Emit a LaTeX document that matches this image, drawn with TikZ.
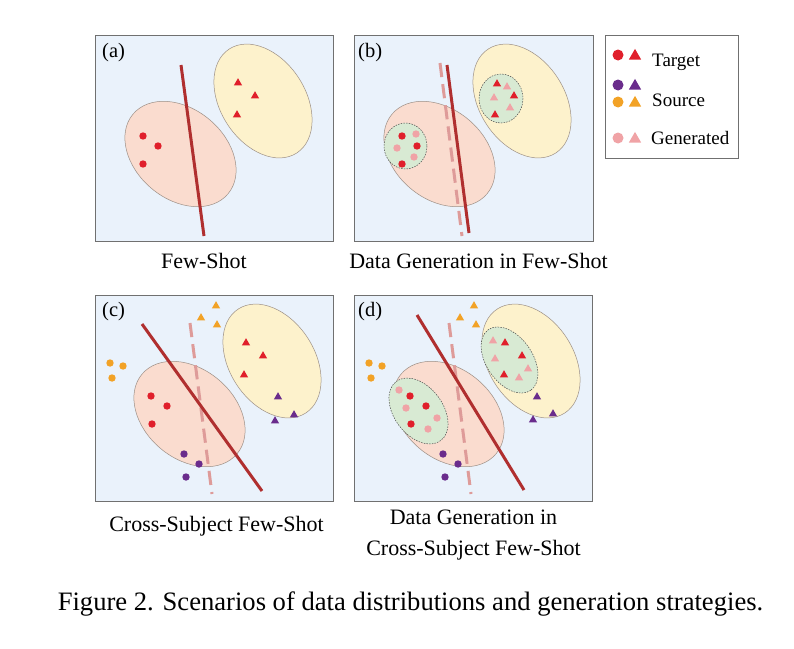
\documentclass[tikz,border=0pt]{standalone}
\usepackage{fontspec}
\setmainfont{Liberation Serif}
\usetikzlibrary{shapes.geometric}

\definecolor{panelbg}{HTML}{EAF2FB}
\definecolor{panelgray}{HTML}{707070}
\definecolor{regiongray}{HTML}{9C8F86}
\definecolor{pinkfill}{HTML}{FADCCF}
\definecolor{yellowfill}{HTML}{FDF2CC}
\definecolor{greenfill}{HTML}{D8EAD3}
\definecolor{boundred}{HTML}{B02F2F}
\definecolor{boundpink}{HTML}{DE9B99}
\definecolor{tgtred}{HTML}{E01F2B}
\definecolor{genpink}{HTML}{F0A3A6}
\definecolor{srcpurple}{HTML}{6A2C8C}
\definecolor{srcorange}{HTML}{F2A226}

\begin{document}
\begin{tikzpicture}[x=1pt, y=-1pt,
  panel/.style={draw=panelgray, fill=panelbg, line width=0.9pt},
  pinkreg/.style={draw=regiongray, fill=pinkfill, line width=0.5pt},
  yellowreg/.style={draw=regiongray, fill=yellowfill, line width=0.5pt},
  genreg/.style={draw=black!70, fill=greenfill, dash pattern=on 1.5pt off 1.2pt, line width=0.5pt},
  bound/.style={draw=boundred, line width=3pt},
  oldbound/.style={draw=boundpink, line width=3pt, dash pattern=on 14.2pt off 7.1pt},
  dotpt/.style={circle, inner sep=0pt, minimum size=7.4pt},
  tript/.style={regular polygon, regular polygon sides=3, inner sep=0pt, minimum size=9.6pt},
  legdot/.style={circle, inner sep=0pt, minimum size=11pt},
  legtri/.style={regular polygon, regular polygon sides=3, inner sep=0pt, minimum size=14.2pt},
  paneltag/.style={anchor=base west, inner sep=0pt, font=\fontsize{20.5}{24}\selectfont},
  legtext/.style={anchor=base west, inner sep=0pt, font=\fontsize{19}{22}\selectfont},
  captext/.style={anchor=base, inner sep=0pt, align=center, font=\fontsize{22}{31}\selectfont}
]

%% page and margins
\fill[white] (0,0) rectangle (794,648);
\useasboundingbox (0,0) rectangle (794,648);

%% ---------------- (a) ----------------
\draw[panel] (95,35) rectangle (333,241);
\draw[pinkreg, rotate around={-40:(180.5,154)}] (180.5,154) ellipse [x radius=62, y radius=45];
\draw[yellowreg, rotate around={-57:(263,101)}] (263,101) ellipse [x radius=62, y radius=42.5];
\draw[bound] (181,65) -- (204,236);
\foreach \px/\py [count=\i] in {143/136, 158/146, 143/164}
  \node[dotpt, fill=tgtred] (a-c\i) at (\px,\py) {};
\foreach \px/\py [count=\i] in {238/83, 255/96, 237/115}
  \node[tript, fill=tgtred] (a-t\i) at (\px,\py) {};
\node[paneltag] (a-tag) at (102,57.5) {(a)};

%% ---------------- (b) ----------------
\draw[panel] (354,35) rectangle (593,241);
\draw[pinkreg, rotate around={-40:(439.5,154)}] (439.5,154) ellipse [x radius=62, y radius=45];
\draw[yellowreg, rotate around={-57:(522,101)}] (522,101) ellipse [x radius=62, y radius=42.5];
\draw[genreg] (405.5,146) ellipse [x radius=21.5, y radius=23];
\draw[genreg] (501,98.5) ellipse [x radius=22, y radius=24.5];
\draw[oldbound] (440,63) -- (462,236);
\draw[bound] (447,65) -- (469,233);
\foreach \px/\py [count=\i] in {402/136, 417/146, 402/164}
  \node[dotpt, fill=tgtred] (b-c\i) at (\px,\py) {};
\foreach \px/\py [count=\i] in {416/134, 397/148, 414/157}
  \node[dotpt, fill=genpink] (b-g\i) at (\px,\py) {};
\foreach \px/\py [count=\i] in {497/84, 514/96, 495/115}
  \node[tript, fill=tgtred] (b-t\i) at (\px,\py) {};
\foreach \px/\py [count=\i] in {507/87, 494/98, 510/108}
  \node[tript, fill=genpink] (b-h\i) at (\px,\py) {};
\node[paneltag] (b-tag) at (358,57.5) {(b)};

%% ---------------- (c) ----------------
\draw[panel] (95,295) rectangle (333,501);
\draw[pinkreg, rotate around={-40:(189.5,414)}] (189.5,414) ellipse [x radius=62, y radius=45];
\draw[yellowreg, rotate around={-57:(272,361)}] (272,361) ellipse [x radius=62, y radius=42.5];
\draw[oldbound] (190,323) -- (212,494);
\draw[bound] (142,324) -- (262,491);
\foreach \px/\py [count=\i] in {151/396, 167/406, 152/424}
  \node[dotpt, fill=tgtred] (c-c\i) at (\px,\py) {};
\foreach \px/\py [count=\i] in {246/343, 263/356, 244/375}
  \node[tript, fill=tgtred] (c-t\i) at (\px,\py) {};
\foreach \px/\py [count=\i] in {110/363, 123/366, 112/378}
  \node[dotpt, fill=srcorange] (c-oc\i) at (\px,\py) {};
\foreach \px/\py [count=\i] in {216/306, 201/318, 217/325}
  \node[tript, fill=srcorange] (c-ot\i) at (\px,\py) {};
\foreach \px/\py [count=\i] in {184/454, 199/464, 186/477}
  \node[dotpt, fill=srcpurple] (c-pc\i) at (\px,\py) {};
\foreach \px/\py [count=\i] in {278/397, 294/415, 275/421}
  \node[tript, fill=srcpurple] (c-pt\i) at (\px,\py) {};
\node[paneltag] (c-tag) at (102,316.5) {(c)};

%% ---------------- (d) ----------------
\draw[panel] (354,295) rectangle (592,501);
\draw[pinkreg, rotate around={-40:(448.5,414)}] (448.5,414) ellipse [x radius=62, y radius=45];
\draw[yellowreg, rotate around={-57:(531,361)}] (531,361) ellipse [x radius=62, y radius=42.5];
\draw[genreg, rotate around={-53:(418.5,411)}] (418.5,411) ellipse [x radius=37, y radius=24.3];
\draw[genreg, rotate around={-55:(509.5,360)}] (509.5,360) ellipse [x radius=37, y radius=23];
\draw[oldbound] (449,323) -- (471,494);
\draw[bound] (417,315) -- (524,490);
\foreach \px/\py [count=\i] in {410/396, 426/406, 411/424}
  \node[dotpt, fill=tgtred] (d-c\i) at (\px,\py) {};
\foreach \px/\py [count=\i] in {399/390, 406/408, 437/418, 428/429}
  \node[dotpt, fill=genpink] (d-g\i) at (\px,\py) {};
\foreach \px/\py [count=\i] in {505/343, 522/356, 504/375}
  \node[tript, fill=tgtred] (d-t\i) at (\px,\py) {};
\foreach \px/\py [count=\i] in {493/341, 495/359, 528/369, 519/378}
  \node[tript, fill=genpink] (d-h\i) at (\px,\py) {};
\foreach \px/\py [count=\i] in {369/363, 382/366, 371/378}
  \node[dotpt, fill=srcorange] (d-oc\i) at (\px,\py) {};
\foreach \px/\py [count=\i] in {474/306, 460/318, 476/325}
  \node[tript, fill=srcorange] (d-ot\i) at (\px,\py) {};
\foreach \px/\py [count=\i] in {443/454, 458/464, 445/477}
  \node[dotpt, fill=srcpurple] (d-pc\i) at (\px,\py) {};
\foreach \px/\py [count=\i] in {537/397, 553/414, 533/420}
  \node[tript, fill=srcpurple] (d-pt\i) at (\px,\py) {};
\node[paneltag] (d-tag) at (358,316) {(d)};

%% ---------------- legend ----------------
\draw[draw=panelgray, fill=white, line width=0.9pt] (605,35) rectangle (738,158);
\node[legdot, fill=tgtred] (l-c1) at (618,55) {};
\node[legtri, fill=tgtred] (l-t1) at (635,56) {};
\node[legdot, fill=srcpurple] (l-c2) at (618,85) {};
\node[legtri, fill=srcpurple] (l-t2) at (635,86) {};
\node[legdot, fill=srcorange] (l-c3) at (618,102) {};
\node[legtri, fill=srcorange] (l-t3) at (635,103) {};
\node[legdot, fill=genpink] (l-c4) at (618,138) {};
\node[legtri, fill=genpink] (l-t4) at (635,139) {};
\node[legtext] (l-target) at (652,66) {Target};
\node[legtext] (l-source) at (652,106) {Source};
\node[legtext] (l-gen) at (651,144) {Generated};

%% ---------------- captions ----------------
\node[captext] (cap-a) at (204,268) {Few-Shot};
\node[captext] (cap-b) at (478.5,268) {Data Generation in Few-Shot};
\node[captext] (cap-c) at (216.5,531) {Cross-Subject Few-Shot};
\node[captext] (cap-d) at (473.5,555) {Data Generation in\\Cross-Subject Few-Shot};
\node[captext, font=\fontsize{26.6}{30}\selectfont] (fig) at (410.5,610) {Figure 2. Scenarios of data distributions and generation strategies.};

\end{tikzpicture}
\end{document}
